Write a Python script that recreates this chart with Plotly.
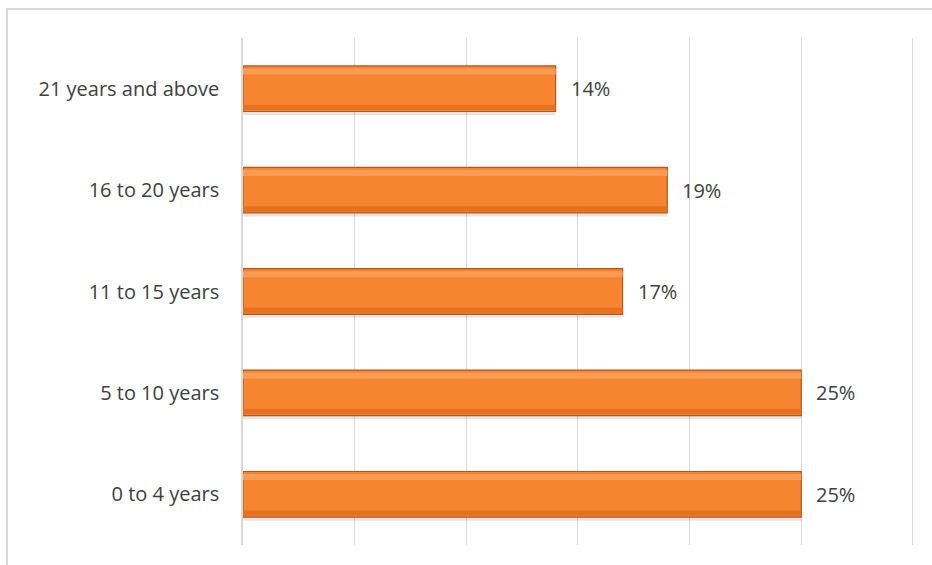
import plotly.graph_objects as go

categories = ["0 to 4 years", "5 to 10 years", "11 to 15 years", "16 to 20 years", "21 years and above"]
values = [25, 25, 17, 19, 14]
labels = ["25%", "25%", "17%", "19%", "14%"]

FONT = "Open Sans, Liberation Sans"

fig = go.Figure()
# shadow
fig.add_trace(go.Bar(
    y=categories, x=values, orientation="h", width=0.47, offset=-0.26,
    marker=dict(color="rgba(0,0,0,0.10)", line=dict(width=0)),
    hoverinfo="skip", showlegend=False,
))
# main bar
fig.add_trace(go.Bar(
    y=categories, x=values, orientation="h", width=0.45,
    marker=dict(color="#F7842E", line=dict(color="#B8561A", width=1.2)),
    showlegend=False,
))
# top highlight
fig.add_trace(go.Bar(
    y=categories, x=values, orientation="h", width=0.06, offset=0.14,
    marker=dict(color="#FA9C52", line=dict(width=0)),
    hoverinfo="skip", showlegend=False,
))
# bottom darker band
fig.add_trace(go.Bar(
    y=categories, x=values, orientation="h", width=0.05, offset=-0.21,
    marker=dict(color="#E5711F", line=dict(width=0)),
    hoverinfo="skip", showlegend=False,
))

for c, v, t in zip(categories, values, labels):
    fig.add_annotation(x=v, y=c, text=t, showarrow=False, xanchor="left",
                       xshift=13, font=dict(family=FONT, size=20, color="#404040"))

fig.update_layout(
    width=932, height=565,
    margin=dict(l=243, r=18, t=38, b=20),
    paper_bgcolor="white", plot_bgcolor="white",
    barmode="overlay",
    xaxis=dict(range=[0, 30.05], tickvals=[0, 5, 10, 15, 20, 25, 30], showticklabels=False, showgrid=True,
               gridcolor="#D9D9D9", gridwidth=1, zeroline=False, showline=False, fixedrange=True),
    yaxis=dict(categoryorder="array", categoryarray=categories, showgrid=False,
               showline=True, linecolor="#D9D9D9", linewidth=1.5, ticks="",
               ticklabelstandoff=18,
               tickfont=dict(family=FONT, size=20, color="#404040")),
    shapes=[dict(type="rect", xref="paper", yref="paper",
                 x0=-236/671, x1=1.2, y0=-0.2, y1=1 + 29/507,
                 line=dict(color="#D9D9D9", width=2), fillcolor="rgba(0,0,0,0)", layer="below")],
)

fig.write_html("out.html")
